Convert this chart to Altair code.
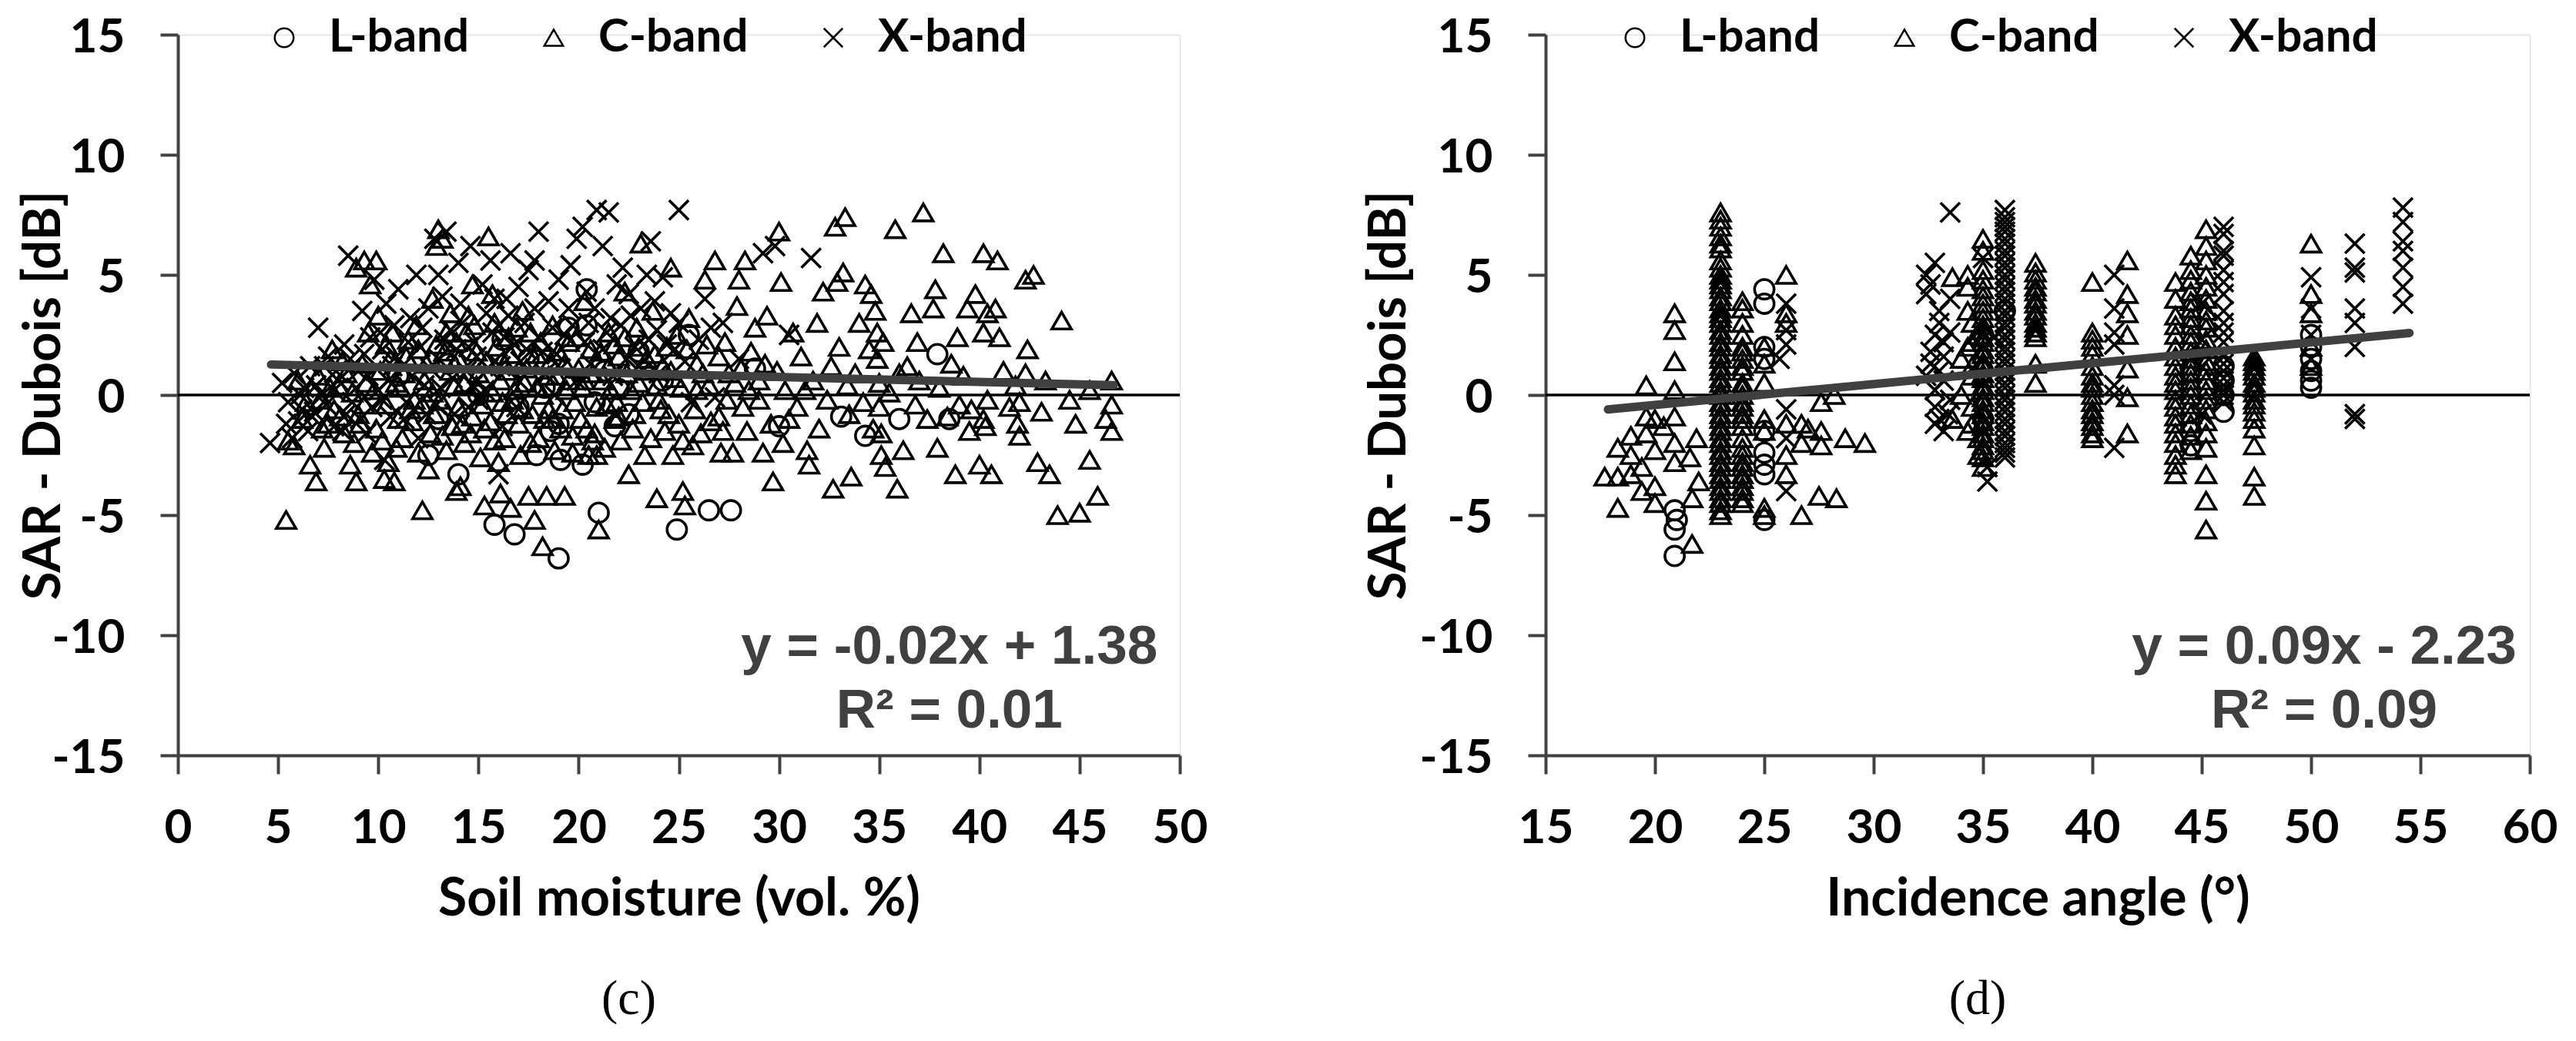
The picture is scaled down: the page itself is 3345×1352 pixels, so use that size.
import altair as alt
import pandas as pd

# ---------------- data: panel (c) soil moisture ----------------
c_L = [(12.5,-2.5),(13.5,1.3),(14.0,-3.3),(15.0,0.0),(15.8,-5.4),(16.2,2.3),(16.8,-5.8),(17.0,-0.5),
       (17.5,1.5),(17.9,-2.5),(18.3,0.3),(18.6,-1.5),(19.0,-6.8),(19.0,-1.2),(19.1,-2.7),(19.5,2.8),
       (20.2,-2.9),(20.4,4.4),(20.4,2.9),(20.8,-0.3),(21.0,-4.9),(21.3,1.0),(21.8,-1.3),(22.0,0.25),
       (22.5,-0.8),(23.0,1.8),(24.2,0.6),(24.9,-5.6),(25.5,2.5),(26.5,-4.8),(27.6,-4.8),(28.8,1.1),
       (30.0,-1.3),(33.1,-0.9),(34.3,-1.7),(36.0,-1.0),(37.9,1.7),(38.5,-1.0),(13.0,-1.0),(11.0,0.8)]

c_C = [(5.4,-5.2),(5.5,-1.9),(5.8,-2.1),(6.2,-1.0),(6.6,-2.9),(6.9,-3.6),(7.2,-1.4),(7.5,-1.2),
       (7.8,-0.6),(8.0,0.4),(8.3,-1.6),(8.6,-2.9),(8.9,-3.6),(9.0,-0.8),(9.2,1.3),(9.5,2.6),(9.9,5.6),
       (8.9,5.3),(9.3,5.6),(9.6,4.6),(10.0,3.3),(10.2,-1.9),(10.3,-3.5),(10.5,-2.8),(10.8,-3.6),
       (11.0,-1.0),(11.3,0.9),(11.5,2.3),(11.8,-0.2),(12.0,-2.4),(12.2,-4.8),(12.5,-3.1),(12.7,4.0),
       (12.9,6.2),(13.0,6.9),(13.2,6.5),(13.4,2.6),(13.6,1.0),(13.7,-1.3),(13.9,-4.0),(14.1,-3.8),
       (14.3,0.5),(14.5,3.3),(14.7,4.6),(14.9,1.8),(15.2,-0.4),(15.3,-4.6),(15.5,6.6),(15.7,4.2),
       (15.8,-1.9),(16.0,-2.8),(16.1,-4.1),(16.3,1.3),(16.5,2.4),(16.6,-4.7),(16.8,0.2),(17.0,-1.2),
       (17.2,3.5),(17.5,-4.2),(17.6,-2.0),(17.8,-5.2),(17.9,1.7),(18.2,-6.3),(18.4,-4.2),(18.5,-0.6),
       (18.7,2.9),(18.9,0.8),(19.1,-1.4),(19.3,-4.2),(19.5,2.2),(19.8,-0.3),(20.0,1.1),(20.3,3.9),
       (20.5,-2.5),(20.7,-1.9),(20.9,-2.5),(21.0,-5.6),(21.2,0.6),(21.5,2.6),(21.8,-1.0),(22.0,1.6),
       (22.3,4.3),(22.5,-3.3),(22.6,0.2),(22.9,2.8),(23.1,6.3),(23.3,-2.5),(23.5,1.0),(23.7,3.5),
       (23.9,-4.3),(24.1,-0.6),(24.4,2.0),(24.6,5.3),(24.8,0.7),(25.0,-1.2),
       (9.8,0.2),(10.6,1.5),(11.2,-1.8),(12.3,0.6),(12.8,-0.8),(13.3,1.8),(14.0,-0.5),(14.6,-1.6),
       (15.0,0.9),(15.9,2.0),(16.4,-0.8),(17.3,0.5),(18.0,-1.8),(18.6,1.4),(19.4,0.2),(20.1,-1.0),
       (20.6,1.9),(21.4,-0.4),(22.1,-1.9),(23.0,0.5),(23.8,1.7),(24.3,-1.5),(24.9,2.5),
       (6.0,0.6),(6.4,-0.3),(7.0,0.8),(7.3,-2.2),(7.7,1.9),(8.1,-0.9),(8.4,0.9),(8.8,-2.0),(9.1,-1.2),
       (9.4,0.5),(9.7,-2.4),(10.1,1.0),(10.4,-0.4),(10.7,2.6),(10.9,-2.2),(11.1,0.3),(11.4,1.6),
       (11.7,-1.1),(11.9,2.9),(12.2,-0.4),(12.4,1.3),(12.6,-1.6),(12.9,2.1),(13.1,-0.2),(13.4,-2.3),
       (13.6,3.4),(13.8,0.4),(14.0,1.5),(14.2,-1.2),(14.4,2.6),(14.7,-0.9),(14.9,0.4),(15.1,-2.6),
       (15.4,1.4),(15.6,-1.1),(15.8,3.0),(16.1,0.6),(16.3,-1.8),(16.5,1.0),(16.7,-0.2),(16.9,2.8),
       (17.1,-2.5),(17.4,1.1),(17.7,-0.8),(17.9,0.3),(18.1,2.2),(18.3,-1.0),(18.5,0.8),(18.8,-2.3),
       (19.0,1.8),(19.2,-0.6),(19.5,0.6),(19.7,-1.7),(19.9,2.4),(20.2,0.3),(20.4,-1.4),(20.7,0.9),
       (20.9,-0.5),(21.1,1.8),(21.3,-2.2),(21.6,0.2),(21.8,2.1),(22.0,-0.9),(22.4,0.9),(22.7,-1.4),
       (23.0,2.0),(23.2,-0.3),(23.6,-1.8),(23.9,0.4),(24.2,1.2),(24.5,-0.8),(24.7,-2.5),(25.1,0.3),
       (25.4,1.9),(25.8,-0.6),(26.2,0.9),(26.6,-1.1),(27.0,1.6),(27.4,-0.2),(27.8,0.5),(28.5,0.2),
       (29.3,1.3),(29.6,-1.2),(30.2,-2.0),(31.3,0.2),(32.0,-1.4),(33.4,0.4),(34.2,-0.3),(36.0,0.9),
       (36.9,2.2),(38.9,2.4),(39.5,-1.5),(41.0,2.4),(41.9,-1.2),(43.3,0.6),(44.8,-1.2),(46.3,-1.0),
       (7.1,-0.2),(7.6,0.3),(8.2,1.4),(8.7,0.1),(9.3,-0.4),(9.9,-1.4),(10.4,2.1),(10.9,0.5),
       (11.6,-0.6),(12.0,1.9),(12.7,0.1),(13.2,-1.7),(13.9,2.2),(14.3,-2.0),(14.8,2.9),(15.3,-1.4),
       (15.7,0.1),(16.2,-0.3),(16.6,1.7),(17.2,-0.6),(17.6,2.6),(18.2,0.0),(18.7,-1.0),(19.3,1.3),
       (19.7,-2.4),(20.3,0.6),(20.8,-1.6),(21.5,1.2),(21.9,-0.3),(22.3,2.4),(22.8,-0.8),(23.4,1.5),
       (24.0,-0.2),(24.6,1.0),(25.2,-1.9),(25.9,0.2),(26.4,2.1),(27.2,-1.5),(28.1,1.1),(29.0,0.6),
       (25.2,-4.0),(25.3,-4.6),(25.5,3.2),(25.7,-2.1),(25.9,1.3),(26.1,-1.6),(26.3,4.8),(26.5,0.4),
       (26.8,5.6),(27.0,-0.9),(27.1,-2.4),(27.3,2.2),(27.5,0.9),(27.7,-2.4),(27.9,3.7),(28.0,4.8),
       (28.2,-0.5),(28.3,5.6),(28.4,-1.5),(28.6,1.8),(28.8,2.8),(29.0,-0.2),(29.2,-2.4),(29.4,3.3),
       (29.7,-3.6),(29.9,1.0),(30.0,6.8),(30.1,4.7),(30.3,0.2),(30.5,-1.0),(30.7,2.6),(30.9,-0.5),
       (31.1,1.6),(31.4,-2.3),(31.5,-2.9),(31.7,0.6),(31.9,3.0),(32.2,4.3),(32.4,-0.2),(32.6,1.2),
       (32.7,-3.9),(32.8,7.0),(32.9,4.7),(33.0,2.0),(33.2,5.1),(33.3,7.4),(33.5,-0.8),(33.6,-3.4),
       (33.8,0.9),(34.0,3.0),(34.3,4.6),(34.5,1.9),(34.6,4.2),(34.7,-1.4),(34.8,3.5),(34.9,2.6),
       (34.9,1.5),(35.0,0.5),(35.0,-0.5),(35.1,-1.6),(35.1,-2.5),(35.2,2.2),(35.3,-3.0),(35.5,0.1),
       (35.8,6.9),(35.9,-3.9),(36.2,-2.3),(36.4,1.2),(36.6,3.4),(36.8,-0.4),(37.0,0.6),(37.2,7.6),
       (37.4,-1.0),(37.7,3.6),(37.8,4.4),(37.9,-2.2),(38.0,0.3),(38.2,5.9),(38.4,-0.9),(38.6,1.3),
       (38.8,-3.3),(39.0,-0.4),(39.2,0.8),(39.4,3.6),(39.6,-0.6),(39.8,4.2),(40.0,-2.9),(40.2,5.9),
       (40.2,2.6),(40.2,-1.0),(40.3,-1.3),(40.4,3.4),(40.4,-0.2),(40.6,-3.3),(40.8,3.6),(40.9,5.6),
       (41.2,1.0),(41.5,-0.5),(41.8,0.4),(42.0,-1.7),(42.0,-0.3),(42.3,0.9),(42.3,4.8),(42.4,1.9),
       (42.7,5.0),(42.9,-2.8),(43.1,-0.7),(43.5,-3.3),(43.9,-5.0),(44.1,3.1),(44.5,-0.2),(45.0,-4.9),
       (45.5,-2.7),(45.5,0.2),(45.9,-4.2),(46.6,0.6),(46.6,-0.4),(46.6,-1.5)]

c_X = [(4.6,-2.0),(5.2,0.5),(5.5,-0.3),(5.8,0.9),(6.0,-1.1),(6.3,0.3),(6.6,1.2),(6.8,-0.7),(7.0,2.8),
       (7.2,0.0),(7.5,1.6),(7.8,-1.3),(8.0,0.6),(8.3,2.1),(8.5,5.8),(8.7,-0.3),(9.0,1.0),(9.2,3.5),
       (9.4,-1.6),(9.6,2.4),(9.8,4.8),(10.0,0.2),(10.2,1.9),(10.4,3.8),(10.6,-0.9),(10.8,2.9),
       (11.0,4.4),(11.2,1.2),(11.4,-0.3),(11.6,3.2),(11.9,5.0),(12.1,2.0),(12.3,0.4),(12.5,3.6),
       (12.8,6.5),(13.0,1.5),(13.2,4.1),(13.4,6.8),(13.6,2.7),(13.8,-0.8),(14.0,5.5),(14.2,3.0),
       (14.4,1.0),(14.6,6.2),(14.8,2.2),(15.0,-0.2),(15.2,4.6),(15.4,3.4),(15.6,5.6),(15.8,1.4),
       (16.0,2.9),(16.2,-1.3),(16.4,4.0),(16.6,5.9),(16.8,2.1),(17.0,0.6),(17.3,3.0),(17.5,5.2),
       (17.8,5.6),(18.0,6.8),(18.2,1.8),(18.5,3.9),(18.8,0.0),(19.0,4.8),(19.3,2.5),(19.6,5.4),
       (19.9,6.5),(20.2,7.0),(20.4,4.3),(20.6,1.3),(20.9,7.7),(21.2,6.2),(21.5,7.6),(21.6,3.2),
       (21.9,4.6),(22.2,5.3),(22.5,4.2),(22.8,2.0),(23.1,3.6),(23.4,5.0),(23.6,6.4),(23.9,2.7),
       (24.2,4.9),(24.6,3.4),(25.0,7.7),(25.3,1.4),(25.6,-0.3),(26.0,2.3),(26.3,4.0),(26.8,-0.1),
       (27.2,3.0),(28.0,1.5),(29.2,5.9),(29.8,6.2),(30.5,2.5),(31.6,5.7),(16.0,-3.3),(14.5,-0.5),
       (12.0,-1.8),(10.3,-2.7),(8.2,-1.5),(6.5,-1.5),(5.7,-1.8),
       (6.2,-0.6),(6.9,0.4),(7.4,-0.4),(7.9,1.0),(8.4,-0.8),(8.9,0.3),(9.3,1.7),(9.7,-0.5),(10.1,2.6),
       (10.5,0.6),(10.9,1.6),(11.3,-1.0),(11.7,0.8),(12.2,2.8),(12.6,1.1),(12.9,-0.4),(13.3,2.3),
       (13.7,0.7),(14.1,3.8),(14.5,2.0),(14.9,1.6),(15.3,0.2),(15.7,2.6),(16.1,1.2),(16.5,3.3),
       (16.9,-0.5),(17.4,1.9),(17.8,3.6),(18.3,0.9),(18.7,2.8),(19.1,1.1),(19.5,3.6),(19.9,0.6),
       (20.3,2.2),(20.8,3.6),(21.2,1.9),(21.7,0.8),(22.1,2.9),(22.6,3.3),(23.0,1.2),(23.5,2.3),
       (24.0,0.9),(24.4,2.1),(25.0,3.0),(26.6,2.8),(17.0,4.5),(15.8,4.0),(13.0,5.0),
       (5.4,-1.2),(6.1,0.0),(6.7,-0.9),(7.3,1.2),(7.8,0.2),(8.6,1.5),(9.1,-1.0),(9.5,0.8),
       (10.2,-0.2),(10.7,1.2),(11.5,2.2),(12.4,-0.8),(13.1,0.3),(13.9,1.9),(14.7,0.4),(15.5,1.1),
       (16.3,2.4),(17.1,1.4),(18.0,2.4),(18.9,1.7),(19.7,2.9),(20.5,3.0),(21.4,2.6),(22.4,1.5),
       (23.8,3.9),(24.8,1.9)]

# ---------------- data: panel (d) incidence angle ----------------
d_L = [(20.9,-4.8),(20.9,-5.6),(20.9,-6.7),(21.0,-5.2),
       (25.0,4.4),(25.0,3.8),(25.0,2.0),(25.0,1.5),(25.0,-1.5),(25.0,-2.4),(25.0,-2.9),(25.0,-3.3),(25.0,-5.2),
       (35.0,2.5),(35.0,1.0),(35.0,-1.0),(36.0,3.5),
       (44.5,-1.5),(44.5,-2.1),(44.5,1.0),
       (46.0,1.2),(46.0,0.6),(46.0,0.0),(46.0,-0.7),
       (50.0,2.5),(50.0,2.0),(50.0,1.5),(50.0,1.0),(50.0,0.6),(50.0,0.3)]

d_C = [(17.7,-3.4),(18.3,-3.4),(18.3,-2.2),(18.3,-4.7),(18.9,-2.5),(18.9,-1.7),(18.9,-3.3),(19.4,-3.0),
       (19.6,0.4),(19.6,-0.9),(19.6,-1.6),(19.4,-4.0),(20.0,-1.0),(20.0,-2.3),(20.0,-3.8),(20.0,-4.5),
       (20.4,-1.3),
       (20.9,3.4),(20.9,2.7),(20.9,1.4),(20.9,0.2),(20.9,-0.9),(20.9,-2.0),(20.9,-2.8),
       (21.7,-6.2),(21.7,-4.3),(21.6,-2.6),(22.0,-3.6),(21.9,-1.8),
       (23.0,7.6),(23.0,7.3),(23.0,7.0),(23.0,6.6),(23.0,6.1),(23.0,5.6),(23.0,4.8),(23.0,4.4),
       (23.0,3.9),(23.0,3.4),(23.0,3.0),(23.0,2.5),(23.0,2.0),(23.0,1.5),(23.0,1.0),(23.0,0.5),
       (23.0,0.0),(23.0,-0.5),(23.0,-1.0),(23.0,-1.5),(23.0,-2.0),(23.0,-2.5),(23.0,-3.0),(23.0,-3.5),
       (23.0,-4.0),(23.0,-4.5),(23.0,-5.0),
       (23.0,6.3),(23.0,5.3),(23.0,5.0),(23.0,4.6),(23.0,4.1),(23.0,3.6),(23.0,3.2),(23.0,2.7),
       (23.0,2.2),(23.0,1.7),(23.0,1.2),(23.0,0.7),(23.0,0.2),(23.0,-0.3),(23.0,-0.8),(23.0,-1.3),
       (23.0,-1.8),(23.0,-2.3),(23.0,-2.8),(23.0,-3.3),(23.0,-3.8),(23.0,-4.3),(23.0,-4.8),
       (24.0,3.9),(24.0,3.6),(24.0,2.5),(24.0,2.0),(24.0,1.5),(24.0,1.0),(24.0,0.5),(24.0,0.0),
       (24.0,-0.5),(24.0,-1.0),(24.0,-2.5),(24.0,-3.0),(24.0,-3.5),(24.0,-4.0),(24.0,-4.5),
       (24.0,3.0),(24.0,1.8),(24.0,1.2),(24.0,0.3),(24.0,-0.3),(24.0,-0.8),(24.0,-1.3),(24.0,-1.8),
       (24.0,-2.2),(24.0,-2.8),(24.0,-3.3),(24.0,-3.8),(24.0,-4.3),
       (25.0,2.0),(25.0,1.3),(25.0,0.5),(25.0,-1.0),(25.0,-1.5),(25.0,-5.0),(25.0,-4.7),
       (26.0,5.0),(26.0,3.4),(26.0,3.0),(26.0,-1.2),(26.0,-2.5),(26.0,-3.3),
       (26.7,-5.0),(26.7,-1.2),(26.7,-2.0),(27.0,-1.4),(27.6,-0.3),(27.6,-1.5),(27.6,-2.1),(27.5,-4.2),
       (28.2,0.0),(28.3,-4.3),(28.7,-1.8),(29.6,-2.0),
       (33.6,4.9),(33.6,-1.0),(34.0,1.5),(34.0,0.0),(34.3,5.0),(34.3,4.5),(34.3,3.5),(34.3,2.0),
       (34.3,-1.5),(34.5,3.0),(34.5,0.8),(34.5,-0.5),(34.8,2.5),(34.8,-1.8),(34.8,-2.5),
       (34.5,2.2),(34.5,1.2),(34.5,-1.2),
       (35.0,6.5),(35.0,5.2),(35.0,4.4),(35.0,3.8),(35.0,3.2),(35.0,2.7),(35.0,2.2),(35.0,1.7),
       (35.0,1.2),(35.0,0.7),(35.0,0.2),(35.0,-0.3),(35.0,-0.8),(35.0,-1.3),(35.0,-1.8),(35.0,-2.3),
       (35.0,-3.0),
       (35.0,6.0),(35.0,4.8),(35.0,4.1),(35.0,3.5),(35.0,2.9),(35.0,2.4),(35.0,1.9),(35.0,1.4),
       (35.0,0.9),(35.0,0.4),(35.0,-0.1),(35.0,-0.6),(35.0,-1.1),(35.0,-1.6),(35.0,-2.1),(35.0,-2.6),
       (37.4,5.5),(37.4,4.8),(37.4,4.3),(37.4,3.8),(37.4,3.3),(37.4,2.8),(37.4,2.4),(37.4,1.3),(37.4,0.5),
       (37.4,5.1),(37.4,4.5),(37.4,4.0),(37.4,3.5),(37.4,3.0),(37.4,2.6),
       (40.0,4.7),(40.0,2.6),(40.0,2.3),(40.0,1.7),(40.0,0.8),(40.0,0.3),(40.0,-0.3),(40.0,-0.8),
       (40.0,-1.3),(40.0,-1.8),(40.0,2.0),(40.0,1.2),(40.0,0.5),(40.0,0.0),(40.0,-0.6),(40.0,-1.1),
       (40.0,-1.6),
       (41.6,5.6),(41.6,4.2),(41.6,3.4),(41.6,2.5),(41.6,1.1),(41.6,-0.1),(41.6,-1.6),
       (43.8,4.7),(43.8,3.3),(43.8,2.5),(43.8,1.6),(43.8,0.8),(43.8,0.2),(43.8,-0.5),(43.8,-1.2),
       (43.8,-2.0),(43.8,-2.9),(43.8,-3.3),
       (43.8,4.0),(43.8,2.9),(43.8,2.0),(43.8,1.2),(43.8,0.5),(43.8,-0.2),(43.8,-0.9),(43.8,-1.6),
       (43.8,-2.5),
       (44.5,5.8),(44.5,5.2),(44.5,4.3),(44.5,3.6),(44.5,2.9),(44.5,2.2),(44.5,1.5),(44.5,0.9),
       (44.5,0.3),(44.5,-0.4),(44.5,-1.2),(44.5,-2.3),
       (44.5,4.8),(44.5,3.9),(44.5,3.2),(44.5,2.5),(44.5,1.8),(44.5,1.2),(44.5,0.6),(44.5,0.0),
       (44.5,-0.8),(44.5,-1.7),
       (45.2,6.9),(45.2,5.6),(45.2,4.5),(45.2,3.5),(45.2,2.8),(45.2,1.9),(45.2,1.0),(45.2,0.2),
       (45.2,-0.6),(45.2,-1.6),(45.2,-3.3),(45.2,-4.4),(45.2,-5.6),
       (45.2,6.2),(45.2,5.0),(45.2,4.0),(45.2,3.1),(45.2,2.3),(45.2,1.4),(45.2,0.6),(45.2,-0.2),
       (45.2,-1.1),(45.2,-2.2),
       (47.4,1.6),(47.4,1.2),(47.4,0.8),(47.4,0.3),(47.4,-0.2),(47.4,-0.7),(47.4,-1.4),(47.4,-2.1),
       (47.4,-3.4),(47.4,-4.2),(47.4,1.4),(47.4,1.0),(47.4,0.5),(47.4,0.1),(47.4,-0.4),(47.4,-1.0),
       (50.0,6.3),(50.0,4.2),(50.0,3.4),(50.0,2.0),(50.0,1.2)]

d_X = [(26.0,3.8),(26.0,2.7),(26.0,2.1),(26.0,-0.6),(26.0,-1.8),(26.0,-4.0),(25.7,1.5),
       (32.4,5.0),(32.4,4.2),(32.6,1.8),(32.6,1.3),(32.8,5.5),(32.8,2.5),(32.8,0.2),(32.8,-0.5),
       (33.0,3.0),(33.0,1.0),(33.0,-1.0),(33.2,2.2),(33.2,-1.5),(33.2,0.6),(33.5,7.6),(33.5,-0.2),(33.5,4.0),
       (32.6,4.6),(33.0,3.5),(32.8,-1.2),(33.2,1.6),(33.5,2.6),(32.4,0.8),(33.4,-0.8),
       (35.0,5.7),(35.2,-3.0),(35.2,-3.6),(35.5,2.4),
       (36.0,7.7),(36.0,7.2),(36.0,6.8),(36.0,6.3),(36.0,5.8),(36.0,5.3),(36.0,4.8),(36.0,4.3),
       (36.0,3.8),(36.0,3.3),(36.0,2.8),(36.0,2.3),(36.0,1.8),(36.0,1.3),(36.0,0.8),(36.0,0.3),
       (36.0,-0.2),(36.0,-0.7),(36.0,-1.2),(36.0,-1.7),(36.0,-2.2),(36.0,-2.6),
       (36.0,7.4),(36.0,7.0),(36.0,6.5),(36.0,6.0),(36.0,5.5),(36.0,5.0),(36.0,4.5),(36.0,4.0),
       (36.0,3.5),(36.0,3.0),(36.0,2.5),(36.0,2.0),(36.0,1.5),(36.0,1.0),(36.0,0.5),(36.0,0.0),
       (36.0,-0.5),(36.0,-1.0),(36.0,-1.5),(36.0,-2.0),(36.0,-2.4),
       (41.0,5.0),(41.0,3.6),(41.0,2.6),(41.0,2.1),(41.0,0.4),(41.0,0.0),(41.0,-2.2),
       (45.0,3.8),(45.0,2.3),(45.0,1.2),(45.0,-0.8),
       (46.0,7.0),(46.0,6.7),(46.0,6.0),(46.0,5.8),(46.0,4.7),(46.0,3.0),(46.0,2.6),(46.0,1.6),
       (46.0,1.0),(46.0,0.4),(46.0,0.0),(46.0,-0.3),
       (46.0,5.2),(46.0,4.2),(46.0,3.5),(46.0,2.2),(46.0,1.3),(46.0,0.7),(46.0,0.2),
       (50.0,4.9),(50.0,2.5),(50.0,1.5),(50.0,3.6),
       (52.0,6.3),(52.0,5.3),(52.0,5.1),(52.0,3.6),(52.0,3.0),(52.0,2.0),(52.0,-0.8),(52.0,-1.0),
       (54.2,7.8),(54.2,7.2),(54.2,6.4),(54.2,6.0),(54.2,5.3),(54.2,4.5),(54.2,3.8)]

bands = ["L-band", "C-band", "X-band"]
shapes = ["circle", "triangle-up", "M-1,-1L1,1M1,-1L-1,1"]

c_trend = [(4.65, 1.27), (46.7, 0.41)]
d_trend = [(17.85, -0.60), (54.5, 2.58)]
c_eq = ["y = -0.02x + 1.38", "R\u00b2 = 0.01"]
d_eq = ["y = 0.09x - 2.23", "R\u00b2 = 0.09"]
c_eq_pos = (38.5, -10.5)
d_eq_pos = (50.6, -10.5)

y_ticks = [-15, -10, -5, 0, 5, 10, 15]
c_xticks = list(range(0, 51, 5))
d_xticks = list(range(15, 61, 5))

AX = "#404040"
FONT = "Lato"
HYPHEN_LABEL = "datum.value < 0 ? '-' + abs(datum.value) : '' + datum.value"


def points_frame(L, C, X):
    parts = []
    for name, pts in zip(bands, [L, C, X]):
        df = pd.DataFrame(pts, columns=["x", "y"])
        df["band"] = name
        parts.append(df)
    return pd.concat(parts, ignore_index=True)


def panel(L, C, X, trend, eq, eq_pos, xdom, xticks, xtitle, width, letter, dx, legx, ytx):
    pts = points_frame(L, C, X)
    xs = alt.Scale(domain=xdom, nice=False, zero=False)
    ys = alt.Scale(domain=[-15, 15], nice=False, zero=False)
    xaxis = alt.Axis(values=xticks, title=xtitle, grid=False, domainColor=AX, domainWidth=4,
                     tickColor=AX, tickWidth=4, tickSize=24, labelFont=FONT, labelFontWeight="bold",
                     labelFontSize=62, labelColor="black", labelPadding=40, labelFlush=False,
                     labelOverlap=False, titleFont=FONT, titleFontWeight="bold", titleFontSize=68,
                     titleColor="black", titlePadding=28)
    yaxis = alt.Axis(values=y_ticks, title="SAR - Dubois [dB]", grid=False, domainColor=AX,
                     domainWidth=4, tickColor=AX, tickWidth=4, tickSize=23, labelFont=FONT,
                     labelFontWeight="bold", labelFontSize=62, labelColor="black", labelPadding=46,
                     labelFlush=False, labelOverlap=False, labelOffset=3, labelExpr=HYPHEN_LABEL,
                     titleFont=FONT, titleFontWeight="bold", titleFontSize=67, titleColor="black",
                     titleX=ytx, titleBaseline="alphabetic")

    zero = alt.Chart(pd.DataFrame({"y": [0]})).mark_rule(color="black", strokeWidth=3.5).encode(
        y=alt.Y("y:Q", scale=ys, axis=yaxis))

    scatter = alt.Chart(pts).mark_point(filled=False, opacity=1, strokeWidth=3.6, size=640,
                                        color="black").encode(
        x=alt.X("x:Q", scale=xs, axis=xaxis),
        y=alt.Y("y:Q", scale=ys),
        shape=alt.Shape("band:N", scale=alt.Scale(domain=bands, range=shapes),
                        legend=alt.Legend(title=None, orient="none", legendX=legx, legendY=-26,
                                          direction="horizontal", labelFont=FONT,
                                          labelFontWeight="bold", labelFontSize=60,
                                          labelColor="black", labelLimit=500, symbolSize=600,
                                          symbolStrokeWidth=2.5, symbolStrokeColor="black",
                                          symbolFillColor="transparent", labelOffset=28,
                                          columnPadding=80, padding=0)),
    )

    tdf = pd.DataFrame(trend, columns=["x", "y"])
    trendline = alt.Chart(tdf).mark_line(color=AX, strokeWidth=11, strokeCap="round").encode(
        x=alt.X("x:Q", scale=xs), y=alt.Y("y:Q", scale=ys))

    edf = pd.DataFrame([eq_pos], columns=["x", "y"])
    eqtext = alt.Chart(edf).mark_text(text=eq, font="Liberation Sans", fontWeight="bold",
                                      fontSize=71, color=AX, align="center", baseline="middle",
                                      lineHeight=83).encode(
        x=alt.X("x:Q", scale=xs), y=alt.Y("y:Q", scale=ys))

    return alt.layer(zero, scatter, trendline, eqtext).properties(
        width=width, height=936,
        title=alt.TitleParams(letter, orient="bottom", anchor="middle", frame="group",
                              font="Liberation Serif", fontWeight="normal", fontSize=64,
                              color="black", offset=64, dx=dx))


left = panel(c_L, c_C, c_X, c_trend, c_eq, c_eq_pos, [0, 50], c_xticks,
             "Soil moisture (vol. %)", 1301, "(c)", -65, 108, -154)
right = panel(d_L, d_C, d_X, d_trend, d_eq, d_eq_pos, [15, 60], d_xticks,
              "Incidence angle (\u00b0)", 1278, "(d)", -78, 86, -183)

chart = alt.hconcat(left, right, spacing=475, bounds="flush").resolve_scale(
    x="independent", y="independent", shape="independent").resolve_legend(
    shape="independent").properties(
    padding={"left": 14, "top": 8, "right": 5, "bottom": 5}
).configure_view(stroke=None).configure(background="white")

chart.save("out.html", embed_options={"renderer": "svg", "actions": False})
